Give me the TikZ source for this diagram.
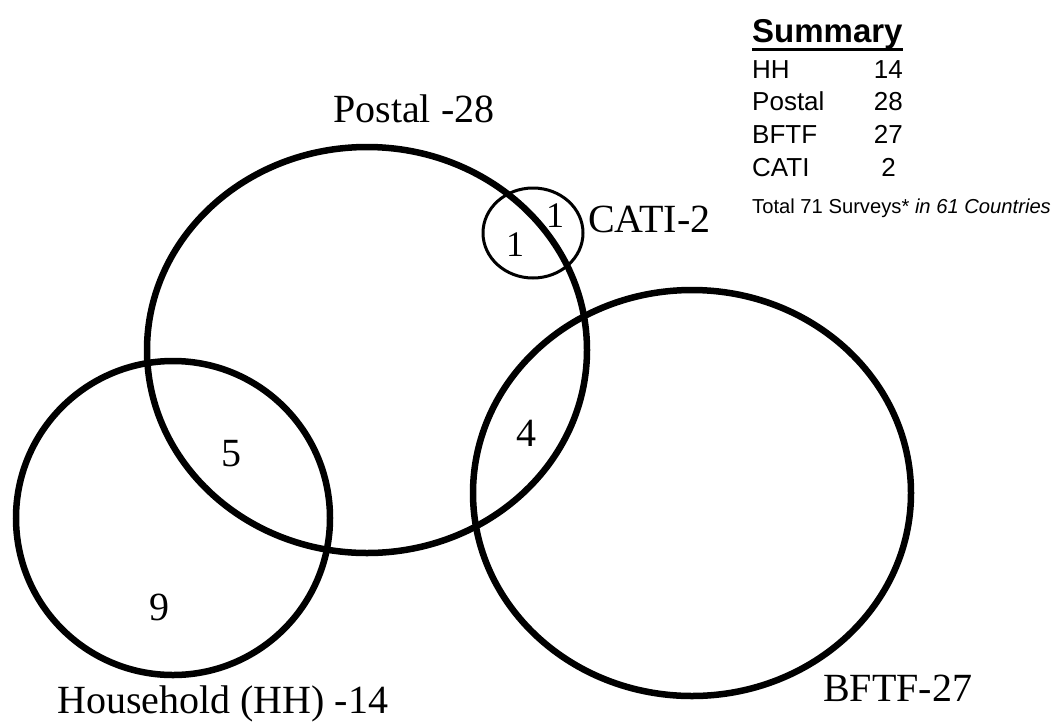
\documentclass[tikz,border=0pt]{standalone}
\usepackage{fontspec}
\setmainfont{Liberation Serif}
\newfontfamily\arialfont{Liberation Sans}
\begin{document}
\begin{tikzpicture}[x=1pt,y=-1pt,
  bigset/.style={draw=black,line width=6.5pt},
  smallset/.style={draw=black,line width=3pt},
  setlabel/.style={inner sep=0pt,anchor=base west,font=\fontsize{40}{48}\selectfont},
  count/.style={inner sep=0pt,anchor=center,font=\fontsize{40}{48}\selectfont},
  smallcount/.style={inner sep=0pt,anchor=center,font=\fontsize{36}{42}\selectfont},
  sumtext/.style={inner sep=0pt,font=\arialfont\fontsize{26}{30}\selectfont},
]
\useasboundingbox (0,0) rectangle (1057,724);
% set centres
\coordinate (postal) at (367,350);
\coordinate (hh) at (173,518);
\coordinate (bftf) at (692,493);
\coordinate (cati) at (533,233);
% sets
\draw[bigset] (postal) ellipse [x radius=220pt, y radius=203pt];
\draw[bigset] (hh) ellipse [x radius=157pt, y radius=157pt];
\draw[bigset] (bftf) ellipse [x radius=219pt, y radius=203pt];
\draw[smallset] (cati) ellipse [x radius=50pt, y radius=45pt];
% set labels
\node[setlabel] (lpostal) at (333,122) {Postal -28};
\node[setlabel] (lcati) at (588,232) {CATI-2};
\node[setlabel] (lhh) at (57,713) {Household (HH) -14};
\node[setlabel] (lbftf) at (823,701) {BFTF-27};
% counts
\node[smallcount] (c1a) at (555,216) {1};
\node[smallcount] (c1b) at (515,245) {1};
\node[count] (c5) at (231,454) {5};
\node[count] (c4) at (526,433) {4};
\node[count] (c9) at (159,607) {9};
% summary
\node[sumtext,anchor=base west,font=\arialfont\bfseries\fontsize{33}{38}\selectfont] (sumtitle) at (752,42) {Summary};
\draw[line width=3pt] (sumtitle.south west |- 0,49) -- (sumtitle.south east |- 0,49);
\node[sumtext,anchor=base west] (shh) at (752,78) {HH};
\node[sumtext,anchor=base east] (nhh) at (903,78) {14};
\node[sumtext,anchor=base west] (spostal) at (752,110) {Postal};
\node[sumtext,anchor=base east] (npostal) at (903,110) {28};
\node[sumtext,anchor=base west] (sbftf) at (752,143) {BFTF};
\node[sumtext,anchor=base east] (nbftf) at (903,143) {27};
\node[sumtext,anchor=base west] (scati) at (752,176) {CATI};
\node[sumtext,anchor=base east] (ncati) at (896,176) {2};
\node[sumtext,anchor=base west,font=\arialfont\fontsize{20.2}{24}\selectfont] (total) at (752,213) {Total 71 Surveys* \textit{in 61 Countries}};
\end{tikzpicture}
\end{document}
